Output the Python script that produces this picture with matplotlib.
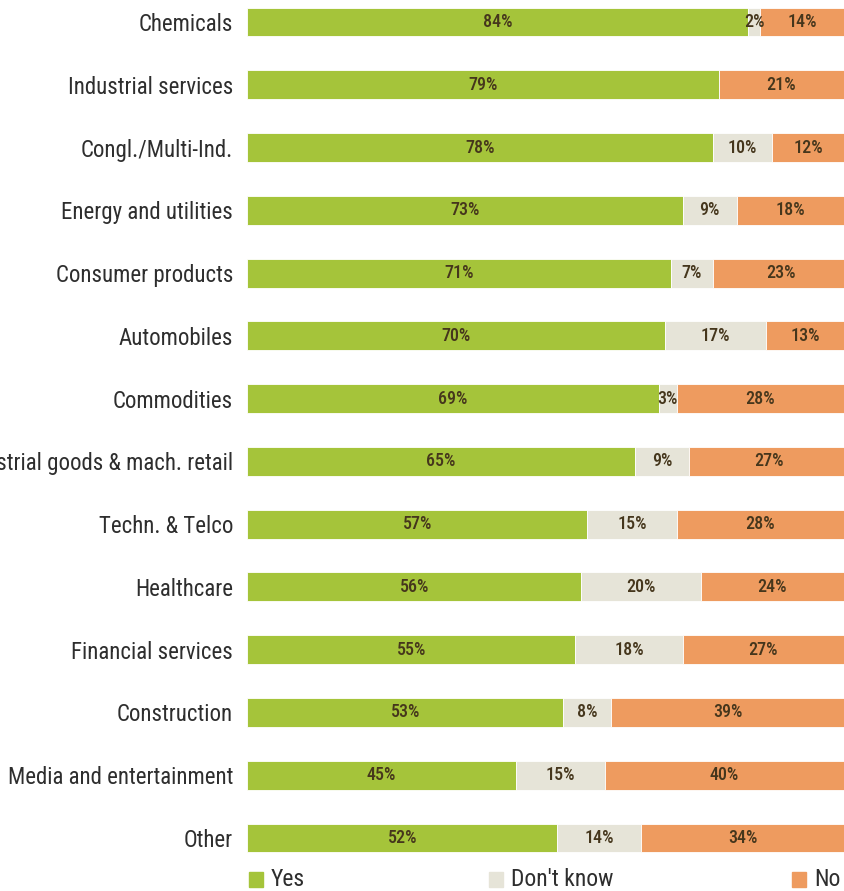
import numpy as np
import matplotlib.pyplot as plt
from matplotlib.patches import Rectangle

categories = ["Chemicals", "Industrial services", "Congl./Multi-Ind.",
              "Energy and utilities", "Consumer products", "Automobiles",
              "Commodities", "Industrial goods & mach. retail", "Techn. & Telco",
              "Healthcare", "Financial services", "Construction",
              "Media and entertainment", "Other"]
yes = [84, 79, 78, 73, 71, 70, 69, 65, 57, 56, 55, 53, 45, 52]
dont_know = [2, 0, 10, 9, 7, 17, 3, 9, 15, 20, 18, 8, 15, 14]
no = [14, 21, 12, 18, 23, 13, 28, 27, 28, 24, 27, 39, 40, 34]
series_names = ["Yes", "Don't know", "No"]

colors = ["#a5c43a", "#e6e4d8", "#ee9b5f"]
font = "Roboto Condensed"
label_color = "#45361c"

W, H = 844, 891
fig = plt.figure(figsize=(W / 100, H / 100), dpi=100)
# axes placed in pixels: bars from x=247 to right edge
ax = fig.add_axes([247 / W, 1 - 860 / H, 1 - 247 / W, 860 / H])

y = np.arange(len(categories))
left = np.zeros(len(categories))
for vals, c in zip([yes, dont_know, no], colors):
    vals = np.array(vals, dtype=float)
    ax.barh(y, vals, left=left, height=0.46, color=c, edgecolor="white", linewidth=0.6)
    for yi, l, v in zip(y, left, vals):
        if v > 0:
            ax.text(l + v / 2, yi, f"{int(v)}%", ha="center", va="center",
                    fontsize=13, family=font, weight="medium", color=label_color)
    left += vals

ax.set_xlim(0, 100)
step = 62.77
ax.set_ylim((860 - 22) / step, -22 / step)
ax.set_yticks(y)
ax.set_yticklabels(categories, family=font, fontsize=16.5, color="#2e2e2e")
ax.tick_params(axis="y", length=0, pad=10)
ax.set_xticks([])
for s in ax.spines.values():
    s.set_visible(False)

# legend along the bottom
leg_x = [249, 489, 792]
for px, name, c in zip(leg_x, series_names, colors):
    fig.patches.append(Rectangle((px / W, 1 - 887 / H), 14 / W, 15 / H,
                                 transform=fig.transFigure, color=c))
    fig.text((px + 22) / W, 1 - 879 / H, name, family=font, fontsize=17,
             color="#2e2e2e", va="center", ha="left")

fig.savefig("out.png", dpi=100)
